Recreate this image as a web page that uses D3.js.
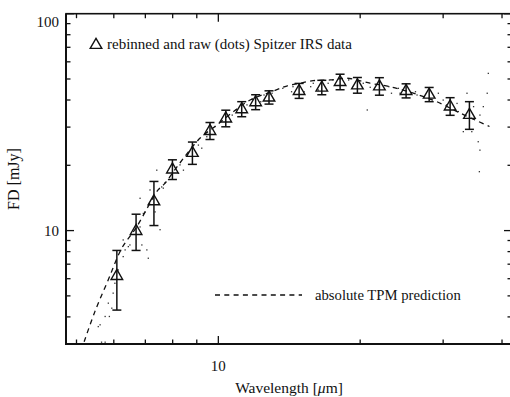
<!DOCTYPE html>
<html>
<head>
<meta charset="utf-8">
<script src="https://cdn.jsdelivr.net/npm/d3@7/dist/d3.min.js"></script>
<style>
  body { margin: 0; background: #fff; }
  text { font-family: "Liberation Serif", "DejaVu Serif", serif; fill: #111; }
</style>
</head>
<body>
<div id="chart"></div>
<script>
// rebinned spectrum: wavelength [um], flux [mJy], error [mJy]
const binWave = [6.09, 6.69, 7.30, 7.99, 8.81, 9.60, 10.37, 11.21, 12.0, 12.81, 14.84, 16.58, 18.13, 19.73, 21.97, 25.03, 28.02, 31.04, 34.11];
const binFlux = [6.2, 10.0, 13.7, 19.2, 22.9, 28.9, 33.0, 36.4, 39.2, 41.2, 44.2, 45.8, 48.6, 46.9, 46.4, 44.2, 42.5, 37.5, 34.3];
const binErr  = [1.9, 1.9, 3.15, 2.0, 2.7, 2.6, 2.9, 2.9, 3.1, 2.9, 3.5, 3.5, 4.0, 3.9, 4.3, 3.3, 3.2, 3.5, 5.0];

// raw (dots) spectrum
const rawWave = [5.75, 5.65, 5.56, 5.87, 5.94, 5.98, 6.03, 6.13, 6.28, 6.34, 6.44, 6.49, 6.88, 7.05, 7.10, 6.82, 6.93, 6.82, 7.16, 7.34,
  7.52, 7.58, 7.70, 5.61, 5.75, 5.84, 6.28, 6.99, 7.64, 7.40, 8.29, 8.43, 8.23, 9.07, 9.22, 9.45, 9.84, 10.7, 10.9, 11.5,
  11.8, 12.3, 12.5, 13.0, 13.7, 14.3, 14.4, 15.2, 15.7, 16.3, 15.9, 17.1, 17.5, 18.9, 20.3, 20.7, 21.0, 23.0, 23.3, 24.1,
  24.3, 26.2, 26.4, 29.3, 30.0, 30.5, 32.1, 32.3, 33.7, 34.8, 35.9, 36.5, 37.2, 37.4, 33.1, 34.5, 35.6, 35.9, 35.8];
const rawFlux = [3.06, 3.06, 3.61, 4.02, 4.39, 5.15, 5.72, 6.59, 7.59, 8.15, 8.44, 8.59, 8.59, 8.15, 7.46, 10.4, 12.0, 14.1, 15.4, 12.2,
  10.1, 15.9, 16.6, 3.68, 4.02, 4.63, 9.06, 12.2, 15.7, 19.0, 20.1, 19.0, 18.4, 24.8, 24.0, 27.1, 30.2, 34.1, 36.0, 38.0,
  40.3, 39.3, 42.2, 43.0, 45.3, 43.7, 46.1, 43.7, 46.1, 44.5, 47.8, 47.8, 49.5, 49.5, 47.8, 36.0, 45.8, 46.1, 43.0, 45.3,
  43.0, 43.7, 42.2, 43.0, 40.0, 38.0, 38.6, 35.4, 43.0, 37.3, 34.1, 37.3, 43.0, 53.1, 28.6, 28.6, 25.7, 23.5, 18.7];

// absolute TPM prediction
const tpmWave = [5.19, 5.47, 5.84, 6.24, 6.69, 7.45, 7.70, 8.23, 9.15, 9.84, 10.76, 11.68, 12.98, 13.97, 14.91, 15.89, 17.27, 18.74, 20.99, 23.14, 26.37, 29.09, 32.61, 37.62];
const tpmFlux = [3.07, 4.23, 5.93, 8.30, 10.3, 15.4, 16.5, 20.1, 26.7, 30.2, 35.3, 40.0, 43.7, 46.4, 47.8, 49.1, 49.5, 50.4, 47.8, 46.1, 42.5, 39.3, 34.8, 30.2];

const xMajor = [10];
const xMinor = [5, 6, 7, 8, 9, 20, 30, 40];
const yMajor = [10, 100];
const yMinor = [4, 5, 6, 7, 8, 9, 20, 30, 40, 50, 60, 70, 80, 90];
const xLabels = ["10"];
const yLabels = ["10", "100"];

const width = 510, height = 397;
const margin = { top: 13.7, right: -2, bottom: 53, left: 66 };

const svg = d3.select('#chart').append('svg')
  .attr('width', width).attr('height', height);

const x = d3.scaleLog().domain([4.75, 42]).range([margin.left, width - margin.right]);
const y = d3.scaleLog().domain([3, 100]).range([height - margin.bottom, margin.top]);

const x0 = x.range()[0], x1 = x.range()[1];
const y0 = y.range()[0], y1 = y.range()[1];

// frame
svg.append('rect')
  .attr('x', x0).attr('y', y1)
  .attr('width', x1 - x0).attr('height', y0 - y1)
  .attr('fill', 'none').attr('stroke', '#111').attr('stroke-width', 1.6);
svg.append('path')
  .attr('d', 'M' + x0 + ',' + y1 + 'V' + y0 + 'H' + x1)
  .attr('fill', 'none').attr('stroke', '#111').attr('stroke-width', 2);

// ticks, IDL style: inside, on all four sides
function ticks(vals, len) {
  const g = svg.append('g').attr('stroke', '#111').attr('stroke-width', 1.3);
  vals.forEach(function (v) {
    g.append('line').attr('x1', x(v)).attr('x2', x(v)).attr('y1', y0).attr('y2', y0 - len);
    g.append('line').attr('x1', x(v)).attr('x2', x(v)).attr('y1', y1).attr('y2', y1 + len);
  });
}
function yticks(vals, len) {
  const g = svg.append('g').attr('stroke', '#111').attr('stroke-width', 1.3);
  vals.forEach(function (v) {
    g.append('line').attr('y1', y(v)).attr('y2', y(v)).attr('x1', x0).attr('x2', x0 + len);
    g.append('line').attr('y1', y(v)).attr('y2', y(v)).attr('x1', x1).attr('x2', x1 - len);
  });
}
ticks(xMajor, 8);
ticks(xMinor, 4.5);
yticks(yMajor, 8);
yticks(yMinor, 4.5);

// tick labels
svg.selectAll('.xl').data(xMajor).enter().append('text')
  .attr('x', d => x(d)).attr('y', y0 + 27)
  .attr('text-anchor', 'middle').attr('font-size', 15)
  .text((d, i) => xLabels[i]);

svg.selectAll('.yl').data(yMajor).enter().append('text')
  .attr('x', x0 - 7).attr('y', d => Math.max(y(d), y1 + 8))
  .attr('dy', '0.35em')
  .attr('text-anchor', 'end').attr('font-size', 15)
  .text((d, i) => yLabels[i]);

// axis titles
svg.append('text')
  .attr('x', 289).attr('y', y0 + 49)
  .attr('text-anchor', 'middle').attr('font-size', 15.5)
  .html('Wavelength [<tspan font-style="italic">\u03bc</tspan>m]');

svg.append('text')
  .attr('transform', 'translate(19,179) rotate(-90)')
  .attr('text-anchor', 'middle').attr('font-size', 16)
  .text('FD [mJy]');

const plot = svg.append('g');

// raw dots
plot.selectAll('.dot').data(rawWave).enter().append('rect')
  .attr('x', d => x(d) - 0.6)
  .attr('y', (d, i) => y(rawFlux[i]) - 0.6)
  .attr('width', 1.3).attr('height', 1.3)
  .attr('fill', '#333');

// model
const line = d3.line()
  .x(d => x(d[0])).y(d => y(d[1]))
  .curve(d3.curveCatmullRom);
plot.append('path')
  .datum(tpmWave.map((w, i) => [w, tpmFlux[i]]))
  .attr('d', line)
  .attr('fill', 'none').attr('stroke', '#111')
  .attr('stroke-width', 1.3).attr('stroke-dasharray', '5,4.3');

// error bars
const eb = plot.append('g').attr('stroke', '#111').attr('stroke-width', 1.5);
binWave.forEach(function (w, i) {
  const xt = x(w), yt = y(binFlux[i] + binErr[i]), yb = y(binFlux[i] - binErr[i]);
  eb.append('line').attr('x1', xt).attr('x2', xt).attr('y1', yt).attr('y2', yb);
  eb.append('line').attr('x1', xt - 4.5).attr('x2', xt + 4.5).attr('y1', yt).attr('y2', yt);
  eb.append('line').attr('x1', xt - 4.5).attr('x2', xt + 4.5).attr('y1', yb).attr('y2', yb);
});

// triangles
const tri = d3.symbol().type(d3.symbolTriangle).size(58);
plot.selectAll('.tri').data(binWave).enter().append('path')
  .attr('d', tri)
  .attr('transform', (d, i) => 'translate(' + x(d) + ',' + (y(binFlux[i]) + 0.5) + ')')
  .attr('fill', 'none').attr('stroke', '#111').attr('stroke-width', 1.4);

// legends
svg.append('path').attr('d', tri)
  .attr('transform', 'translate(96,45)')
  .attr('fill', 'none').attr('stroke', '#111').attr('stroke-width', 1.4);
svg.append('text').attr('x', 107).attr('y', 48.5)
  .attr('font-size', 15)
  .text('rebinned and raw (dots) Spitzer IRS data');

svg.append('line')
  .attr('x1', 215).attr('x2', 302).attr('y1', 295).attr('y2', 295)
  .attr('stroke', '#111').attr('stroke-width', 1.3).attr('stroke-dasharray', '5,4.3');
svg.append('text').attr('x', 315).attr('y', 300)
  .attr('font-size', 14.7)
  .text('absolute TPM prediction');
</script>
</body>
</html>
